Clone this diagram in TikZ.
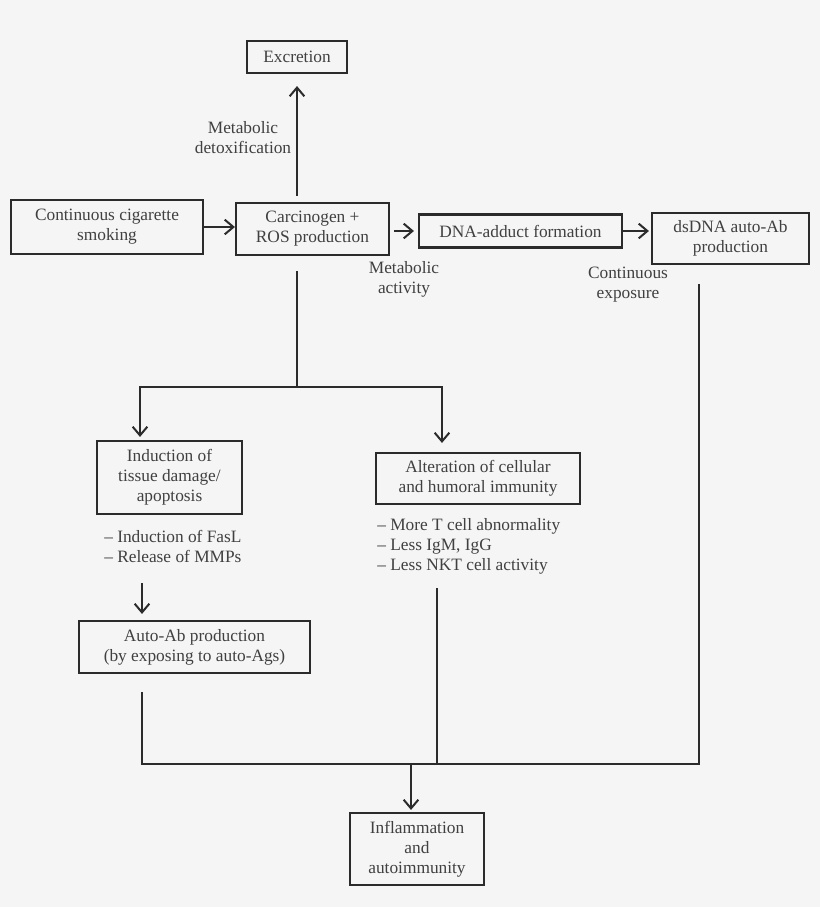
\documentclass[tikz,border=0pt]{standalone}
\usepackage{fontspec}
\setmainfont{Liberation Serif}
\usetikzlibrary{arrows.meta,calc}
\definecolor{bg}{HTML}{F5F5F5}
\definecolor{linec}{HTML}{2B2B2B}
\definecolor{txt}{HTML}{404040}
\begin{document}
\begin{tikzpicture}[x=0.75pt,y=-0.75pt,
  box/.style={draw=linec, line width=1.6pt, text=txt, align=center, inner sep=0pt,
    font=\fontsize{13}{15}\selectfont},
  lbl/.style={text=txt, inner sep=0pt, font=\fontsize{13}{15}\selectfont},
  conn/.style={draw=linec, line width=1.5pt},
  arr/.style={conn, -{Straight Barb[length=6.5pt,width=11pt,line width=1.5pt]}}]
\fill[bg] (0,0) rectangle (820,907);
\useasboundingbox (0,0) rectangle (820,907);

% boxes
\node[box, minimum width=100*0.75pt, minimum height=32*0.75pt] (excretion) at (297,57) {Excretion};
\node[box, minimum width=192*0.75pt, minimum height=54*0.75pt] (smoking) at (107,227) {Continuous cigarette\\smoking};
\node[box, minimum width=153*0.75pt, minimum height=52*0.75pt] (carc) at (312.5,229) {Carcinogen +\\ROS production};
\node[box, minimum width=203*0.75pt, minimum height=33*0.75pt] (dna) at (520.5,231) {DNA-adduct formation};
\node[box, minimum width=157*0.75pt, minimum height=51*0.75pt] (dsdna) at (730.5,238.5) {dsDNA auto-Ab\\production};
\node[box, minimum width=145*0.75pt, minimum height=73*0.75pt] (induction) at (169.5,477.5) {Induction of\\tissue damage/\\apoptosis};
\node[box, minimum width=204*0.75pt, minimum height=51*0.75pt] (alteration) at (478,478.5) {Alteration of cellular\\and humoral immunity};
\node[box, minimum width=231*0.75pt, minimum height=52*0.75pt] (autoab) at (194.5,647) {Auto-Ab production\\(by exposing to auto-Ags)};
\node[box, minimum width=134*0.75pt, minimum height=72*0.75pt] (inflam) at (417,849) {Inflammation\\and\\autoimmunity};

% labels
\node[lbl, align=center] (detox) at (243,138) {Metabolic\\detoxification};
\node[lbl, align=center] (activity) at (404,279) {Metabolic\\activity};
\node[lbl, align=center] (exposure) at (628,285) {Continuous\\exposure};
\node[lbl, align=left, anchor=west] (indlist) at (104,546) {– Induction of FasL\\– Release of MMPs};
\node[lbl, align=left, anchor=west] (altlist) at (377,546) {– More T cell abnormality\\– Less IgM, IgG\\– Less NKT cell activity};

% coordinates
\coordinate (split) at (297,387);
\coordinate (jl) at (140,387);
\coordinate (jr) at (442,387);
\coordinate (ia) at (142,583);
\coordinate (abs) at (142,692);
\coordinate (als) at (437,588);
\coordinate (dss) at (699,284);
\coordinate (m) at (411,764);

% connectors
\draw[arr] (smoking.east) -- (smoking.east -| carc.west);
\draw[arr, shorten <=4.5pt, shorten >=9pt] (carc.north -| excretion.south) -- (excretion.south);
\draw[arr, shorten <=3pt, shorten >=3pt] (carc.east |- dna.west) -- (dna.west);
\draw[arr, shorten >=1.5pt] (dna.east) -- (dna.east -| dsdna.west);
\draw[conn, shorten <=11.25pt] (carc.south -| split) -- (split);
\draw[arr, shorten >=2.25pt] (split) -| (jl |- induction.north);
\draw[arr, shorten >=6.75pt] (split) -| (jr |- alteration.north);
\draw[arr, shorten >=4.5pt] (ia) -- (ia |- autoab.north);
\draw[conn] (abs) |- (dss |- m) -- (dss);
\draw[conn] (als) -- (als |- m);
\draw[arr, shorten >=1.5pt] (m) -- (m |- inflam.north);
\end{tikzpicture}
\end{document}
